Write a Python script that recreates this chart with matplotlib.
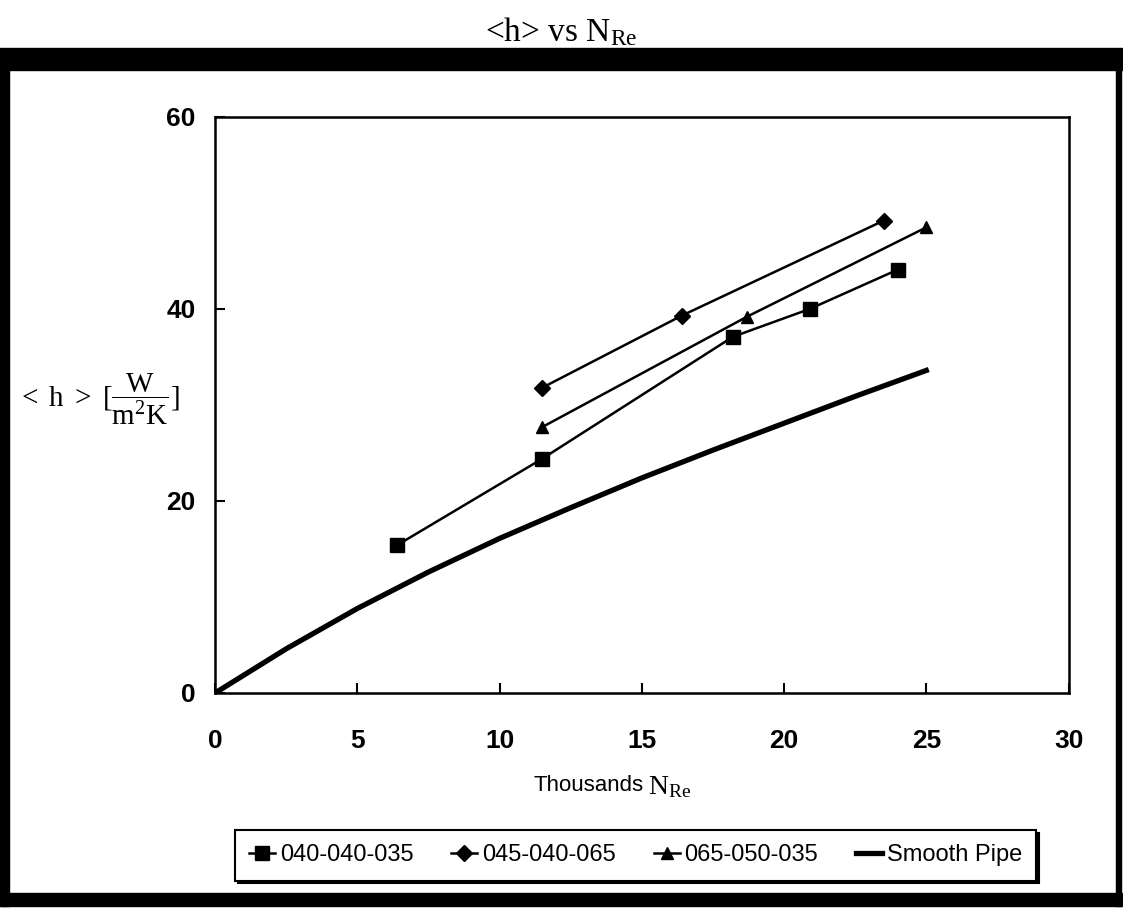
import matplotlib
matplotlib.use("Agg")
import matplotlib.pyplot as plt
from matplotlib.patches import Rectangle
from matplotlib import font_manager

# Data (N_Re in thousands, <h> in W/m2K)
re_040 = [6.4, 11.5, 18.2, 20.9, 24.0]
h_040 = [15.4, 24.4, 37.1, 40.0, 44.1]

re_045 = [11.5, 16.4, 23.5]
h_045 = [31.8, 39.3, 49.2]

re_065 = [11.5, 18.7, 25.0]
h_065 = [27.7, 39.2, 48.5]

re_smooth = [0, 2.5, 5, 7.5, 10, 12.5, 15, 17.5, 20, 22.5, 25]
h_smooth = [0, 4.6, 8.8, 12.6, 16.1, 19.3, 22.4, 25.3, 28.1, 30.9, 33.6]

labels = ["040-040-035", "045-040-065", "065-050-035", "Smooth Pipe"]

names = {f.name for f in font_manager.fontManager.ttflist}
sans = "Liberation Sans Narrow" if "Liberation Sans Narrow" in names else "Liberation Sans"
serif = "Liberation Serif"

plt.rcParams["mathtext.fontset"] = "custom"
plt.rcParams["mathtext.rm"] = serif
plt.rcParams["mathtext.it"] = serif + ":italic"

fig = plt.figure(figsize=(11.23, 9.11), dpi=100)
ax = fig.add_axes([0.1915, 0.2393, 0.760, 0.6323])

ax.plot(re_040, h_040, "-s", color="black", lw=1.8, ms=10, label=labels[0])
ax.plot(re_045, h_045, "-D", color="black", lw=1.8, ms=8, label=labels[1])
ax.plot(re_065, h_065, "-^", color="black", lw=1.8, ms=9, label=labels[2])
ax.plot(re_smooth, h_smooth, "-", color="black", lw=3.8, label=labels[3])

ax.set_xlim(0, 30)
ax.set_ylim(0, 60)
ax.set_xticks(range(0, 31, 5))
ax.set_yticks([0, 20, 40, 60])
ax.tick_params(direction="in", length=7, width=1.5, labelsize=19)
ax.tick_params(axis="x", pad=26)
ax.tick_params(axis="y", pad=14)
for lbl in ax.get_xticklabels() + ax.get_yticklabels():
    lbl.set_fontfamily(sans)
    lbl.set_fontweight("bold")
for s in ax.spines.values():
    s.set_linewidth(1.8)

# title and axis labels
fig.text(0.5, 0.965, r"<h> vs N$_{\mathrm{Re}}$", ha="center", va="center",
         fontsize=24, family=serif)
fig.text(0.573, 0.138, "Thousands", ha="right", va="center",
         fontsize=16, family=sans)
fig.text(0.577, 0.136, r"N$_{\mathrm{Re}}$", ha="left", va="center",
         fontsize=20, family=serif)
fig.text(0.088, 0.562, r"$\mathrm{<\ h\ >\ [\dfrac{W}{m^2K}]}$", ha="center",
         va="center", fontsize=21, family=serif)

# legend with solid black shadow
leg = fig.legend(loc="center", bbox_to_anchor=(0.566, 0.061), ncol=4,
                 frameon=True, fancybox=False, shadow={"color": "black", "alpha": 1},
                 handlelength=1.1, handletextpad=0.2, columnspacing=1.6,
                 borderpad=0.6, prop={"family": sans, "size": 17})
leg.get_frame().set_edgecolor("black")
leg.get_frame().set_linewidth(1.5)

# thick outer frame of the chart area
fig.patches.append(Rectangle((0, 0.923), 1, 0.024, transform=fig.transFigure,
                             color="black", zorder=0))
fig.patches.append(Rectangle((0, 0.005), 1, 0.015, transform=fig.transFigure,
                             color="black", zorder=0))
fig.patches.append(Rectangle((0, 0.005), 0.008, 0.94, transform=fig.transFigure,
                             color="black", zorder=0))
fig.patches.append(Rectangle((0.994, 0.005), 0.004, 0.94, transform=fig.transFigure,
                             color="black", zorder=0))

fig.savefig("out.png", dpi=100)
